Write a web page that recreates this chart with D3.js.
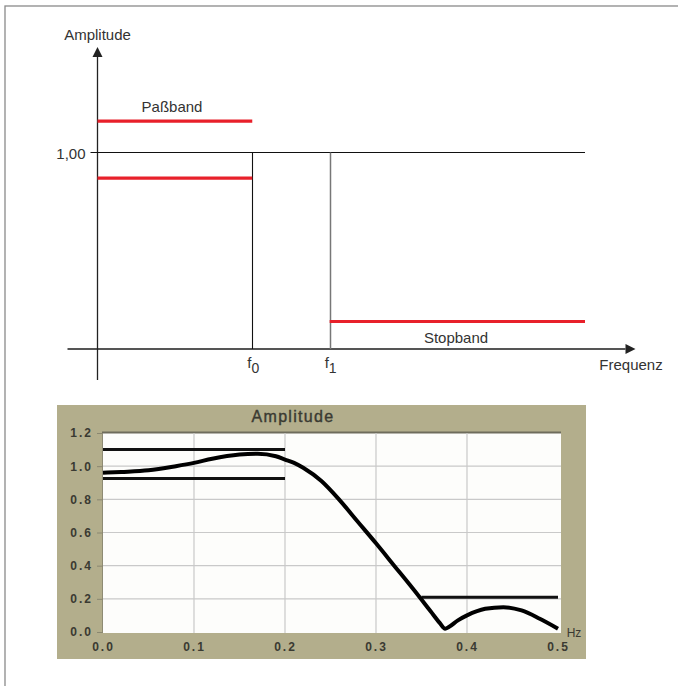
<!DOCTYPE html>
<html><head><meta charset="utf-8">
<script src="https://cdn.jsdelivr.net/npm/d3@7"></script>
<style>
html,body{margin:0;padding:0;background:#fff;}
svg{display:block;}
</style></head>
<body>
<svg id="c" width="678" height="686"></svg>
<script>
// ---------- Data: schematic (top) ----------
const schemFreqs = {f0: 0.2, f1: 0.3, end: 0.63};
const passUpper = 1.16;
const passLower = 0.87;
const stopLevel = 0.14;
const refLevel = 1.00;
const refLabel = "1,00";

// ---------- Data: measured response (bottom) ----------
const respFreq = [0, 0.02, 0.05, 0.08, 0.1, 0.12, 0.15, 0.17, 0.19, 0.2, 0.21, 0.22, 0.24, 0.26, 0.28, 0.3, 0.32, 0.34, 0.36, 0.37, 0.376, 0.38, 0.39, 0.40, 0.42, 0.44, 0.46, 0.48, 0.5];
const respAmp  = [0.96, 0.965, 0.975, 1.0, 1.02, 1.045, 1.07, 1.075, 1.06, 1.04, 1.02, 0.99, 0.91, 0.795, 0.665, 0.535, 0.40, 0.265, 0.125, 0.055, 0.02, 0.03, 0.07, 0.10, 0.14, 0.15, 0.13, 0.08, 0.02];
const passBandLines = [1.10, 0.925];
const passBandRange = [0, 0.2];
const stopBandLine = 0.21;
const stopBandRange = [0.35, 0.5];
const yTicks = [0, 0.2, 0.4, 0.6, 0.8, 1.0, 1.2];
const xTicks = [0, 0.1, 0.2, 0.3, 0.4, 0.5];

const svg = d3.select("#c");
const FONT = "'Liberation Sans', Arial, sans-serif";

// outer frame (cropped: only top and left visible)
svg.append("rect").attr("x",5).attr("y",6).attr("width",700).attr("height",700)
  .attr("fill","none").attr("stroke","#8a8a8a").attr("stroke-width",1.3);

// ================= TOP SCHEMATIC =================
const xs = d3.scaleLinear().domain([0, schemFreqs.end]).range([97.5, 585]);
const ys = d3.scaleLinear().domain([0, 1]).range([349, 152.5]);
const gTop = svg.append("g");
const red = "#e8202a";

// x axis
gTop.append("line").attr("x1", xs(0)-30).attr("x2", xs(0)+528).attr("y1", ys(0)).attr("y2", ys(0))
  .attr("stroke","#555").attr("stroke-width",1.8);
gTop.append("path").attr("d", `M${xs(0)+538},${ys(0)} l-10,-5 l0,10 z`).attr("fill","#222");
// y axis
gTop.append("line").attr("x1", xs(0)).attr("x2", xs(0)).attr("y1", 57).attr("y2", ys(0)+31)
  .attr("stroke","#222").attr("stroke-width",1.3);
gTop.append("path").attr("d", `M${xs(0)},47 l-5,10 l10,0 z`).attr("fill","#222");

// reference line 1,00
gTop.append("line").attr("x1", xs(0)-7).attr("x2", xs(schemFreqs.end)).attr("y1", ys(refLevel)).attr("y2", ys(refLevel))
  .attr("stroke","#111").attr("stroke-width",1.1);
gTop.append("text").attr("x", xs(0)-12).attr("y", ys(refLevel)+6).attr("text-anchor","end")
  .attr("font-family",FONT).attr("font-size",15).attr("fill","#333").text(refLabel);

// f0 and f1 verticals
gTop.append("line").attr("x1", Math.round(xs(schemFreqs.f0))+0.5).attr("x2", Math.round(xs(schemFreqs.f0))+0.5).attr("y1", ys(refLevel)).attr("y2", ys(0))
  .attr("stroke","#111").attr("stroke-width",1.1);
gTop.append("line").attr("x1", Math.round(xs(schemFreqs.f1))+0.5).attr("x2", Math.round(xs(schemFreqs.f1))+0.5).attr("y1", ys(refLevel)).attr("y2", ys(0))
  .attr("stroke","#777").attr("stroke-width",1.5);

// red band lines
gTop.append("line").attr("x1", xs(0)).attr("x2", xs(schemFreqs.f0)).attr("y1", ys(passUpper)).attr("y2", ys(passUpper))
  .attr("stroke",red).attr("stroke-width",3.2);
gTop.append("line").attr("x1", xs(0)).attr("x2", xs(schemFreqs.f0)).attr("y1", ys(passLower)).attr("y2", ys(passLower))
  .attr("stroke",red).attr("stroke-width",3.2);
gTop.append("line").attr("x1", xs(schemFreqs.f1)).attr("x2", xs(schemFreqs.end)).attr("y1", ys(stopLevel)).attr("y2", ys(stopLevel))
  .attr("stroke",red).attr("stroke-width",3.2);

// labels
const tl = (x,y,t,anchor) => gTop.append("text").attr("x",x).attr("y",y).attr("text-anchor",anchor||"start")
  .attr("font-family",FONT).attr("font-size",15).attr("fill","#333").text(t);
tl(xs(0), 40, "Amplitude", "middle");
tl(172, 112, "Paßband", "middle");
tl(456, 343, "Stopband", "middle");
tl(631, 370, "Frequenz", "middle");
const fl = (f, sub) => {
  const t = gTop.append("text").attr("x", xs(f)-5).attr("y", 368)
    .attr("font-family",FONT).attr("font-size",15).attr("fill","#333");
  t.append("tspan").text("f");
  t.append("tspan").attr("dy",5).attr("font-size",14).text(sub);
};
fl(schemFreqs.f0, "0");
fl(schemFreqs.f1, "1");

// ================= BOTTOM RESPONSE PLOT =================
const bot = svg.append("g");
bot.append("rect").attr("x",57).attr("y",405).attr("width",529).attr("height",254).attr("fill","#b3ae8c");
const x = d3.scaleLinear().domain([0, 0.5]).range([103, 558]);
const y = d3.scaleLinear().domain([0, 1.2]).range([632, 433]);
const pl = 103, pr = 561, pt = 433, pb = 633;
bot.append("rect").attr("x",pl).attr("y",pt).attr("width",pr-pl).attr("height",pb-pt).attr("fill","#fdfdfb");
// bevel
bot.append("line").attr("x1",pl-1).attr("x2",pr).attr("y1",pt-0.5).attr("y2",pt-0.5).attr("stroke","#6e6c5c").attr("stroke-width",2);
bot.append("line").attr("x1",pl-0.5).attr("x2",pl-0.5).attr("y1",pt).attr("y2",pb).attr("stroke","#8e8b74").attr("stroke-width",1);

// gridlines
bot.append("g").selectAll("line").data(yTicks.filter(d=>d>0 && d<1.2)).join("line")
  .attr("x1",pl).attr("x2",pr).attr("y1",d=>y(d)).attr("y2",d=>y(d))
  .attr("stroke","#c9c9c9").attr("stroke-width",1.2);
bot.append("g").selectAll("line").data(xTicks.filter(d=>d>0 && d<0.5)).join("line")
  .attr("x1",d=>x(d)).attr("x2",d=>x(d)).attr("y1",pt).attr("y2",pb)
  .attr("stroke","#c9c9c9").attr("stroke-width",1.2);

// axes via d3
const yAxis = d3.axisLeft(y).tickValues(yTicks).tickFormat(d3.format(".1f")).tickSize(6).tickPadding(4);
const gy = bot.append("g").attr("transform",`translate(${pl},0)`).call(yAxis);
gy.select(".domain").remove();
gy.selectAll(".tick line").attr("stroke","#8a8770");
gy.selectAll(".tick text").attr("font-family",FONT).attr("font-size",12).attr("font-weight","bold")
  .attr("fill","#3a3a32").attr("letter-spacing",2);
const xAxis = d3.axisBottom(x).tickValues(xTicks).tickFormat(d3.format(".1f")).tickSize(0).tickPadding(9);
const gx = bot.append("g").attr("transform",`translate(0,${pb})`).call(xAxis);
gx.select(".domain").remove();
gx.selectAll(".tick text").attr("font-family",FONT).attr("font-size",12).attr("font-weight","bold")
  .attr("fill","#3a3a32").attr("letter-spacing",2);

bot.append("text").attr("x",574).attr("y",637).attr("text-anchor","middle")
  .attr("font-family",FONT).attr("font-size",12).attr("fill","#3a3a32").text("Hz");
bot.append("text").attr("x",293).attr("y",422).attr("text-anchor","middle")
  .attr("font-family",FONT).attr("font-size",16).attr("letter-spacing",1.3).attr("fill","#3a3a32").attr("stroke","#3a3a32").attr("stroke-width",0.4)
  .text("Amplitude");

// band lines
passBandLines.forEach(v => {
  bot.append("line").attr("x1",x(passBandRange[0])).attr("x2",x(passBandRange[1])).attr("y1",y(v)).attr("y2",y(v))
    .attr("stroke","#111").attr("stroke-width",3);
});
bot.append("line").attr("x1",x(stopBandRange[0])).attr("x2",x(stopBandRange[1])).attr("y1",y(stopBandLine)).attr("y2",y(stopBandLine))
  .attr("stroke","#111").attr("stroke-width",3);

// response curve
const pts = respFreq.map((f,i)=>[f, respAmp[i]]);
bot.append("path").datum(pts)
  .attr("d", d3.line().x(d=>x(d[0])).y(d=>y(d[1])).curve(d3.curveMonotoneX))
  .attr("fill","none").attr("stroke","#000").attr("stroke-width",4).attr("stroke-linejoin","round");
</script>
</body></html>
